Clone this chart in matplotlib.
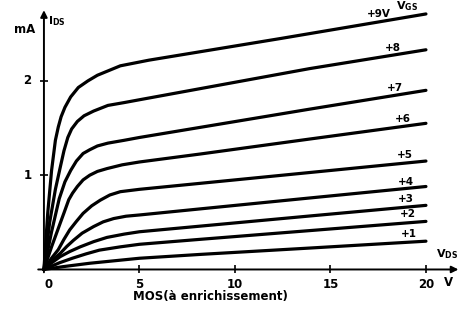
import matplotlib
matplotlib.use("Agg")
import matplotlib.pyplot as plt

# ---- data (V_DS in volts, I_DS in mA) ----
gate_labels = ["+1", "+2", "+3", "+4", "+5", "+6", "+7", "+8", "+9V"]

v1 = [0, 1.0, 2.4, 5.0, 8.2, 13.9, 20]
i1 = [0, 0.03, 0.066, 0.119, 0.16, 0.227, 0.30]

v2 = [0, 0.8, 1.5, 2.2, 2.9, 4.0, 5.0, 8.2, 13.9, 20]
i2 = [0, 0.07, 0.12, 0.165, 0.205, 0.24, 0.267, 0.32, 0.412, 0.51]

v3 = [0, 0.4, 0.85, 1.35, 1.9, 2.6, 3.3, 4.2, 5.0, 8.2, 13.9, 20]
i3 = [0, 0.07, 0.136, 0.19, 0.24, 0.295, 0.34, 0.375, 0.40, 0.46, 0.567, 0.68]

v4 = [0, 0.4, 0.85, 1.2, 1.55, 2.0, 2.6, 3.1, 3.65, 4.3, 5.0, 8.2, 13.9, 20]
i4 = [0, 0.09, 0.17, 0.245, 0.31, 0.385, 0.455, 0.505, 0.54, 0.565, 0.578, 0.643, 0.758, 0.88]

v5 = [0, 0.4, 0.75, 1.05, 1.35, 1.7, 2.05, 2.5, 2.95, 3.45, 4.0, 5.0, 8.2, 13.9, 20]
i5 = [0, 0.12, 0.21, 0.32, 0.42, 0.51, 0.595, 0.675, 0.735, 0.79, 0.825, 0.85, 0.914, 1.028, 1.15]

v6 = [0, 0.4, 0.85, 1.05, 1.3, 1.5, 1.75, 2.05, 2.4, 2.8, 3.3, 4.1, 5.0, 8.2, 10.9, 13.9, 20]
i6 = [0, 0.24, 0.49, 0.6, 0.74, 0.81, 0.88, 0.95, 1.0, 1.04, 1.07, 1.11, 1.14, 1.225, 1.30, 1.383, 1.55]

v7 = [0, 0.4, 0.8, 1.1, 1.4, 1.7, 2.05, 2.4, 2.8, 3.35, 4.2, 5.0, 13.9, 20]
i7 = [0, 0.4, 0.75, 0.93, 1.05, 1.15, 1.23, 1.27, 1.31, 1.34, 1.37, 1.40, 1.70, 1.90]

v8 = [0, 0.3, 0.6, 0.85, 1.05, 1.25, 1.45, 1.75, 2.1, 2.6, 3.35, 4.2, 5.0, 13.9, 20]
i8 = [0, 0.5, 0.85, 1.08, 1.26, 1.40, 1.49, 1.57, 1.63, 1.68, 1.74, 1.77, 1.80, 2.13, 2.33]

v9 = [0, 0.2, 0.4, 0.6, 0.75, 0.9, 1.1, 1.4, 1.8, 2.3, 2.8, 3.4, 4.0, 5.5, 12.4, 20]
i9 = [0, 0.6, 1.05, 1.37, 1.51, 1.62, 1.72, 1.83, 1.93, 2.0, 2.06, 2.11, 2.16, 2.22, 2.45, 2.71]

x_ticks = [0, 5, 10, 15, 20]
x_tick_labels = ["0", "5", "10", "15", "20"]
y_ticks = [1, 2]
y_tick_labels = ["1", "2"]

curves = [(v1, i1), (v2, i2), (v3, i3), (v4, i4), (v5, i5),
          (v6, i6), (v7, i7), (v8, i8), (v9, i9)]

# label placement relative to each curve end (points)
label_offsets = [(-12.2, 5), (-13, 5), (-14.4, 4.3), (-14.4, 3.6), (-15, 4.3),
                 (-16.5, 3), (-22, 1.4), (-24, 1.4), (-34, 0)]

# ---- figure ----
plt.rcParams['font.family'] = ['DejaVu Sans']
fig = plt.figure(figsize=(4.63, 3.12), dpi=100)
ax = fig.add_axes([0, 0, 1, 1])
ax.set_xlim(-2.30, 21.94)
ax.set_ylim(-0.451, 2.858)
ax.axis('off')

for v, i in curves:
    ax.plot(v, i, color='black', lw=2.3, solid_joinstyle='round',
            solid_capstyle='round')

for (v, i), lab, off in zip(curves, gate_labels, label_offsets):
    ax.annotate(lab, (v[-1], i[-1]), xytext=off, textcoords='offset points',
                ha='center', va='center', fontsize=7.5, fontweight='bold')

ax.annotate(r'$\mathregular{V_{GS}}$', (v9[-1], i9[-1]), xytext=(-13.7, 5.5),
            textcoords='offset points', ha='center', va='center',
            fontsize=8, fontweight='bold')

# axes with arrows
ax.annotate('', xy=(21.7, 0), xytext=(-0.3, 0),
            arrowprops=dict(arrowstyle='-|>', color='black', lw=1.4,
                            mutation_scale=10, shrinkA=0, shrinkB=0))
ax.annotate('', xy=(0, 2.75), xytext=(0, -0.03),
            arrowprops=dict(arrowstyle='-|>', color='black', lw=1.4,
                            mutation_scale=10, shrinkA=0, shrinkB=0))

# ticks
ax.plot(x_ticks[1:], [0] * (len(x_ticks) - 1), ls='none', marker='|',
        ms=6, mew=1.2, color='black')
ax.plot([0] * len(y_ticks), y_ticks, ls='none', marker='_',
        ms=6, mew=1.2, color='black')

for xt, xl in zip(x_ticks, x_tick_labels):
    ax.annotate(xl, (xt, 0), xytext=(3 if xt == 0 else 0, -6),
                textcoords='offset points', ha='center', va='top',
                fontsize=8.5, fontweight='bold')
for yt, yl in zip(y_ticks, y_tick_labels):
    ax.annotate(yl, (0, yt), xytext=(-9, 0), textcoords='offset points',
                ha='right', va='center', fontsize=8.5, fontweight='bold')

ax.annotate('mA', (0, 2.55), xytext=(-6, 0), textcoords='offset points',
            ha='right', va='center', fontsize=8.5, fontweight='bold')
ax.annotate(r'$\mathregular{I_{DS}}$', (0, 2.56), xytext=(3, 0),
            textcoords='offset points', ha='left', va='bottom',
            fontsize=8, fontweight='bold')
ax.annotate(r'$\mathregular{V_{DS}}$', (21.1, 0), xytext=(0, 6),
            textcoords='offset points', ha='center', va='bottom',
            fontsize=8, fontweight='bold')
ax.annotate('V', (21.2, 0), xytext=(0, -5), textcoords='offset points',
            ha='center', va='top', fontsize=8.5, fontweight='bold')
ax.text(8.7, -0.29, 'MOS(à enrichissement)', ha='center', va='center',
        fontsize=8.5, fontweight='bold')

fig.savefig('out.png', dpi=100)
